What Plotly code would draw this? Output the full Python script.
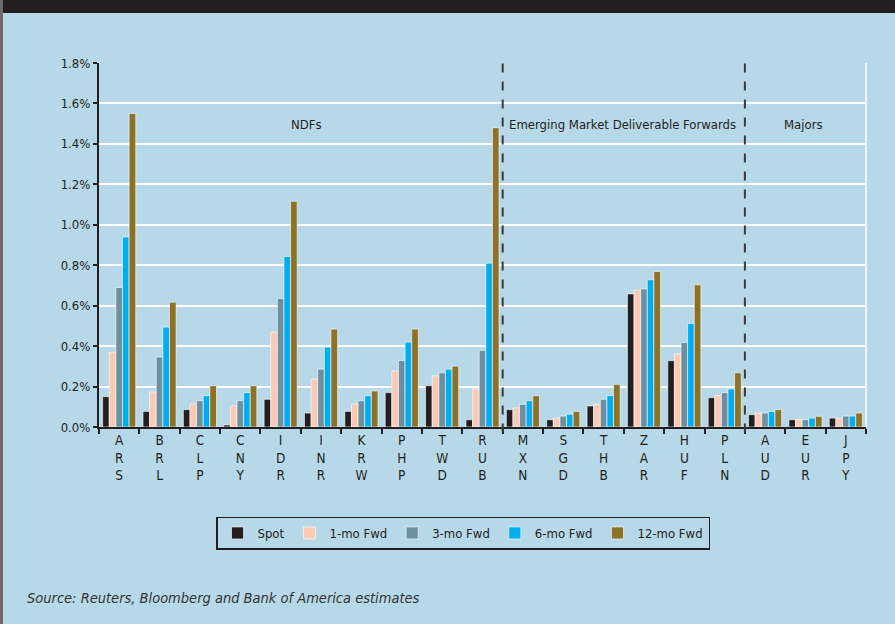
import plotly.graph_objects as go

categories = ["ARS", "BRL", "CLP", "CNY", "IDR", "INR", "KRW", "PHP", "TWD", "RUB",
              "MXN", "SGD", "THB", "ZAR", "HUF", "PLN", "AUD", "EUR", "JPY"]
spot =   [0.15, 0.077, 0.086, 0.01, 0.137, 0.069, 0.077, 0.17, 0.204, 0.036,
          0.086, 0.036, 0.104, 0.658, 0.328, 0.145, 0.061, 0.036, 0.044]
fwd_1m = [0.37, 0.173, 0.114, 0.105, 0.469, 0.237, 0.114, 0.277, 0.253, 0.188,
          0.094, 0.044, 0.112, 0.677, 0.362, 0.155, 0.069, 0.038, 0.044]
fwd_3m = [0.69, 0.346, 0.13, 0.13, 0.635, 0.286, 0.13, 0.329, 0.268, 0.379,
          0.112, 0.054, 0.137, 0.683, 0.418, 0.17, 0.069, 0.036, 0.054]
fwd_6m = [0.94, 0.494, 0.155, 0.17, 0.843, 0.395, 0.155, 0.42, 0.286, 0.81,
          0.13, 0.063, 0.155, 0.728, 0.512, 0.188, 0.077, 0.044, 0.054]
fwd_12m = [1.55, 0.617, 0.204, 0.204, 1.116, 0.484, 0.178, 0.484, 0.301, 1.48,
           0.155, 0.077, 0.211, 0.769, 0.703, 0.268, 0.086, 0.053, 0.069]
series_names = ["Spot", "1-mo Fwd", "3-mo Fwd", "6-mo Fwd", "12-mo Fwd"]
series_vals = [spot, fwd_1m, fwd_3m, fwd_6m, fwd_12m]
colors = ["#231F20", "#FCC9B5", "#6E8FA0", "#00AEEF", "#8B7228"]
y_ticks = [0.0, 0.2, 0.4, 0.6, 0.8, 1.0, 1.2, 1.4, 1.6, 1.8]
group_labels = ["NDFs", "Emerging Market Deliverable Forwards", "Majors"]
group_label_x = [0.271, 0.683, 0.918]
group_bounds = [9.5, 15.5]

FONT = "Liberation Sans Narrow, DejaVu Sans Condensed, Liberation Sans, Arial"
BG = "#B7D8E8"
DARK = "#231F20"

tick_text = ["<br>".join(list(c)) for c in categories]

fig = go.Figure()
for name, vals, col in zip(series_names, series_vals, colors):
    fig.add_trace(go.Bar(
        x=categories, y=vals, name=name,
        marker=dict(color=col, line=dict(color="rgba(255,255,255,0.75)", width=0.8)),
    ))

W, H = 895, 624
L, R, T, B = 99, 29, 63, 197
pw, ph = W - L - R, H - T - B

def px(x):
    return (x - L) / pw

def py(y):
    return (H - B - y) / ph

shapes = []
for gb in group_bounds:
    shapes.append(dict(type="line", xref="x", yref="paper", x0=gb, x1=gb, y0=-0.015, y1=1,
                       line=dict(color="#3a3a3a", width=2, dash="dash"), layer="above"))
shapes.append(dict(type="line", xref="paper", yref="paper", x0=1, x1=1, y0=0, y1=1,
                   line=dict(color="white", width=1.5), layer="below"))
shapes.append(dict(type="rect", xref="paper", yref="paper", x0=px(0), x1=px(W), y0=py(13), y1=py(0),
                   fillcolor=DARK, line=dict(width=0)))
shapes.append(dict(type="rect", xref="paper", yref="paper", x0=px(0), x1=px(3), y0=py(H), y1=py(0),
                   fillcolor="#6b6b6b", line=dict(width=0)))

annotations = []
for lab, gx in zip(group_labels, group_label_x):
    annotations.append(dict(text=lab, x=gx, y=py(125), xref="paper", yref="paper",
                            xanchor="center", yanchor="middle",
                            showarrow=False, font=dict(family=FONT, size=13, color=DARK)))
annotations.append(dict(text="<i>Source: Reuters, Bloomberg and Bank of America estimates</i>",
                        x=px(25), y=py(598), xref="paper", yref="paper", xanchor="left",
                        yanchor="middle",
                        showarrow=False, font=dict(family=FONT, size=14.5, color="#333333")))

fig.update_layout(
    width=W, height=H,
    margin=dict(l=L, r=R, t=T, b=B),
    paper_bgcolor=BG, plot_bgcolor=BG,
    barmode="group", bargap=0.18, bargroupgap=0,
    font=dict(family=FONT, size=13, color=DARK),
    showlegend=True,
    legend=dict(orientation="h", x=px(463), xanchor="center", y=py(533), yanchor="middle",
                bordercolor=DARK, borderwidth=1.5, bgcolor="rgba(0,0,0,0)",
                itemwidth=30,
                font=dict(family=FONT, size=13, color=DARK), traceorder="normal"),
    xaxis=dict(type="category", tickmode="array", tickvals=categories, ticktext=tick_text,
               tickson="boundaries", ticks="outside", ticklen=5, tickcolor=DARK, tickwidth=1.5,
               showline=True, linecolor=DARK, linewidth=2, showgrid=False,
               tickfont=dict(family=FONT, size=13.5, color=DARK), tickangle=0),
    yaxis=dict(range=[0, 1.8], tickvals=y_ticks, ticktext=[f"{v:.1f}%" for v in y_ticks],
               ticks="outside", ticklen=4, tickcolor=DARK, tickwidth=1.5,
               showline=True, linecolor=DARK, linewidth=2,
               showgrid=True, gridcolor="white", gridwidth=1.5, zeroline=False,
               tickfont=dict(family=FONT, size=13, color=DARK)),
    shapes=shapes, annotations=annotations,
)

fig.write_html("out.html")
